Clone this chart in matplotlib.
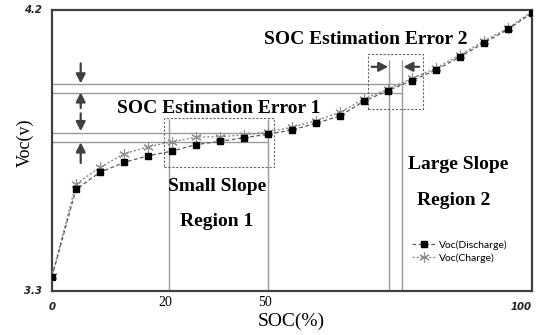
import matplotlib
matplotlib.use("Agg")
import matplotlib.pyplot as plt
from matplotlib.patches import Rectangle
import matplotlib.transforms as mtransforms

# ---- data ----
soc = [0, 5, 10, 15, 20, 25, 30, 35, 40, 45, 50, 55, 60, 65, 70, 75, 80, 85, 90, 95, 100]
voc_discharge = [3.346, 3.626, 3.680, 3.712, 3.733, 3.748, 3.769, 3.779, 3.791, 3.802, 3.816,
                 3.837, 3.861, 3.908, 3.942, 3.974, 4.008, 4.050, 4.095, 4.138, 4.191]
voc_charge = [3.347, 3.643, 3.696, 3.739, 3.762, 3.778, 3.793, 3.794, 3.800, 3.810, 3.824,
              3.846, 3.872, 3.915, 3.947, 3.981, 4.014, 4.056, 4.101, 4.142, 4.195]

series_labels = ["Voc(Discharge)", "Voc(Charge)"]

# schematic guide lines (data units)
region_lines_x = [24.4, 45.1]          # labelled "20", "50"
region_line_top = 3.85
slope_lines_x = [70.3, 73.0]
slope_line_top = 4.04
err1_levels = [3.805, 3.776]
err2_levels = [3.963, 3.933]

xtick_pos = [0, 24.4, 45.1, 100]
xtick_labels = ["0", "20", "50", "100"]
ytick_pos = [3.3, 4.2]
ytick_labels = ["3.3", "4.2"]

# ---- figure ----
fig = plt.figure(figsize=(5.46, 3.35), dpi=100)
ax = fig.add_axes([52/546, 44/335, 480/546, 281/335])
ax.set_xlim(0, 100)
ax.set_ylim(3.3, 4.2)

for s in ax.spines.values():
    s.set_color("#404040")
    s.set_linewidth(1.6)
ax.set_xticks([])
ax.set_yticks([])

guide = dict(color="#9a9a9a", lw=1.0, zorder=1)
for x in region_lines_x:
    ax.vlines(x, 3.3, region_line_top, **guide)
for x in slope_lines_x:
    ax.vlines(x, 3.3, slope_line_top, **guide)
for y in err1_levels:
    ax.hlines(y, 0, region_lines_x[1], **guide)
for y in err2_levels:
    ax.hlines(y, 0, slope_lines_x[1], **guide)

# dotted boxes
ax.add_patch(Rectangle((23.33, 3.698), 46.25 - 23.33, 3.853 - 3.698, fill=False,
                       ls=(0, (2, 1.5)), lw=0.8, ec="#666666", zorder=2))
ax.add_patch(Rectangle((65.9, 3.882), 77.35 - 65.9, 4.058 - 3.882, fill=False,
                       ls=(0, (2, 1.5)), lw=0.8, ec="#666666", zorder=2))

# data
h_chg, = ax.plot(soc, voc_charge, ls=(0, (1.5, 1.5)), color="#8a8a8a", lw=1.0,
                 marker=(6, 2, 0), ms=7.5, mec="#8f8f8f", mew=0.8, label=series_labels[1], zorder=3)
h_dis, = ax.plot(soc, voc_discharge, ls=(0, (3, 2)), color="#5a5a5a", lw=0.9,
                 marker="s", ms=4.2, mfc="black", mec="black", label=series_labels[0], zorder=4)

# arrows
aprops = dict(arrowstyle="-|>,head_length=0.55,head_width=0.28", color="#404040",
              lw=1.6, shrinkA=0, shrinkB=0, mutation_scale=10)
arrow_x = 5.98
for tail, tip in [(4.029, 3.965), (3.886, 3.936), (3.869, 3.812), (3.710, 3.776)]:
    ax.annotate("", xy=(arrow_x, tip), xytext=(arrow_x, tail), arrowprops=aprops)
arrow_y = 4.018
for tail, tip in [(66.6, 70.06), (76.5, 73.2)]:
    ax.annotate("", xy=(tip, arrow_y), xytext=(tail, arrow_y), arrowprops=aprops)

# texts
serif = "Liberation Serif"
bold = dict(family=serif, weight="bold", fontsize=14, ha="center", va="center")
ax.text(65.4, 4.106, "SOC Estimation Error 2", **bold)
ax.text(34.8, 3.886, "SOC Estimation Error 1", **bold)
ax.text(34.4, 3.634, "Small Slope", **bold)
ax.text(34.2, 3.522, "Region 1", **bold)
ax.text(84.6, 3.704, "Large Slope", **bold)
ax.text(83.75, 3.591, "Region 2", **bold)

# axis labels
fig.text(25/546, 1 - 143/335, "Voc(v)", family=serif, fontsize=13, rotation=90,
         ha="center", va="center")
fig.text(291/546, 1 - 321/335, "SOC(%)", family=serif, fontsize=14,
         ha="center", va="center")

# tick labels
tick_sans = dict(family="DejaVu Sans", weight="bold", style="italic", fontsize=7.3, color="#222222")
for y, lab in zip(ytick_pos, ytick_labels):
    ax.text(-2.2, y, lab, ha="right", va="center", **tick_sans)
trans = mtransforms.blended_transform_factory(ax.transData, fig.transFigure)
for x, lab in zip(xtick_pos, xtick_labels):
    if lab in ("0", "100"):
        ax.text(x, 1 - 307/335, lab, transform=trans,
                ha="center" if lab == "0" else "right", va="center", **tick_sans)
    else:
        ax.text(x - 0.8, 1 - 303/335, lab, transform=trans, ha="center", va="center",
                family=serif, fontsize=10)

# legend
leg = ax.legend(handles=[h_dis, h_chg], loc="upper left", bbox_to_anchor=(0.742, 0.195),
                frameon=False, prop=dict(family="Lato", size=7.5), handlelength=2.3,
                handletextpad=0.3, labelspacing=0.35, numpoints=1, borderaxespad=0)

fig.savefig("out.png", dpi=100)
